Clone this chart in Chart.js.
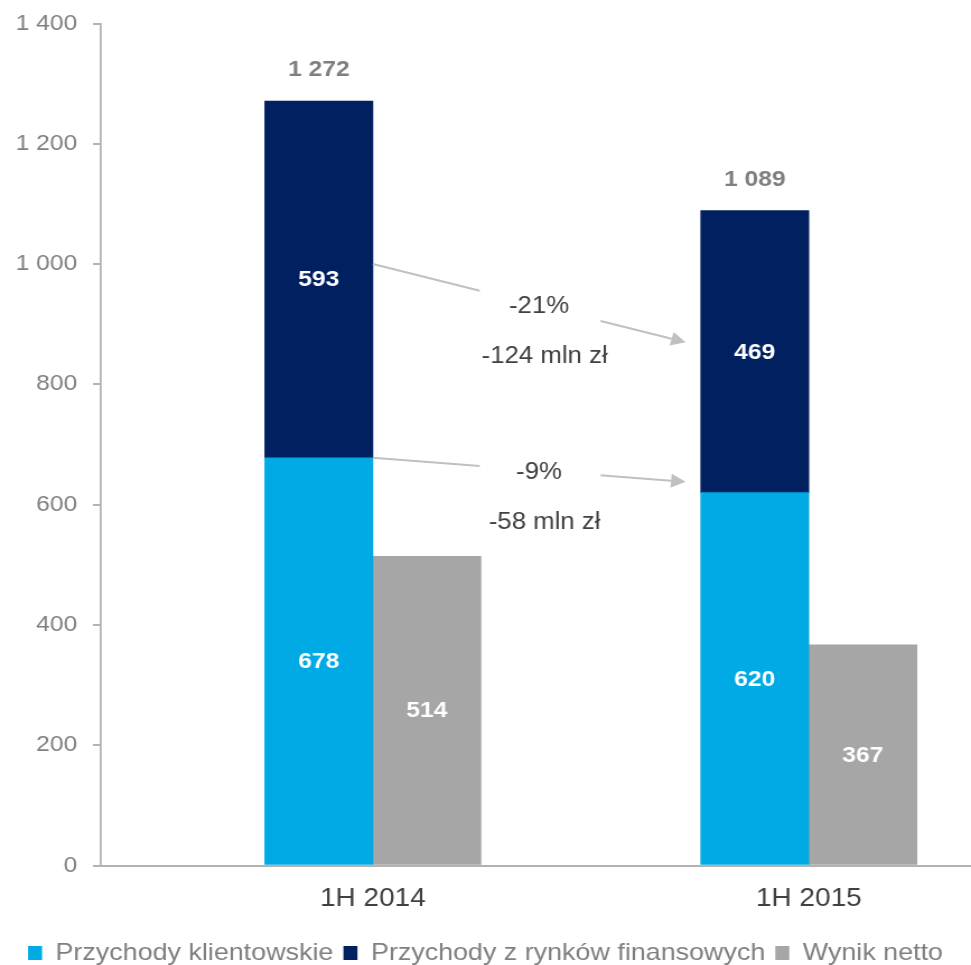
<!DOCTYPE html>
<html>
<head>
<meta charset="utf-8">
<script src="https://cdn.jsdelivr.net/npm/chart.js@4.4.0/dist/chart.umd.min.js"></script>
<style>
  body { margin: 0; background: #fff; }
  canvas { display: block; }
</style>
</head>
<body>
<!-- the original is a slightly widened picture, so the canvas is drawn narrower and stretched -->
<canvas id="chart" width="867" height="965" style="width:971px;height:965px"></canvas>
<script>
// values (mln zł)
const categories = ['1H 2014', '1H 2015'];
const clientRevenue = [678, 620];
const marketRevenue = [593, 469];
const netResult = [514, 367];
const totals = [1272, 1089];
const seriesNames = ['Przychody klientowskie', 'Przychody z rynków finansowych', 'Wynik netto'];

// change arrows between the two periods
const changePct = ['-21%', '-9%'];
const changeAbs = ['-124 mln zł', '-58 mln zł'];
const arrowFrom = [1000, 678];
const arrowTo = [870, 638];

const FONT = "'Liberation Sans', Arial, sans-serif";
const AXIS = '#b3b3b3';

function fmt(v) {
  return String(Math.round(v)).replace(/\B(?=(\d{3})+(?!\d))/g, ' ');
}

function points(arr) {
  return arr.map((v, i) => ({ x: i + 1, y: v }));
}

const annotate = {
  id: 'annotate',
  afterDatasetsDraw(chart) {
    const ctx = chart.ctx;
    const ys = chart.scales.y;
    ctx.save();
    ctx.textAlign = 'center';
    ctx.textBaseline = 'middle';

    // values inside the bars
    ctx.fillStyle = '#ffffff';
    ctx.font = 'bold 22px ' + FONT;
    chart.data.datasets.forEach((ds, di) => {
      chart.getDatasetMeta(di).data.forEach((el, i) => {
        ctx.fillText(fmt(ds.data[i].y), el.x, (el.y + el.base) / 2 + 1);
      });
    });

    // totals above the stacked bars
    const top = chart.getDatasetMeta(1).data;
    ctx.fillStyle = '#7f7f7f';
    totals.forEach((t, i) => {
      ctx.fillText(fmt(t), top[i].x, top[i].y - 31);
    });

    // arrows
    const bars = chart.getDatasetMeta(0).data;
    const x0 = bars[0].x + bars[0].width / 2;
    const gapEnd = bars[1].x - bars[1].width / 2;
    const x1 = gapEnd - 13.5;
    const tx = (x0 + gapEnd) / 2;
    for (let i = 0; i < changePct.length; i++) {
      const y0 = ys.getPixelForValue(arrowFrom[i]);
      const y1 = ys.getPixelForValue(arrowTo[i]);
      const ang = Math.atan2(y1 - y0, x1 - x0);
      const len = 13, half = 7;
      const bx = x1 - len * Math.cos(ang), by = y1 - len * Math.sin(ang);
      ctx.strokeStyle = '#c0c0c0';
      ctx.fillStyle = '#c0c0c0';
      ctx.lineWidth = 2;
      ctx.beginPath();
      ctx.moveTo(x0, y0);
      ctx.lineTo(bx, by);
      ctx.stroke();
      ctx.beginPath();
      ctx.moveTo(x1, y1);
      ctx.lineTo(bx + half * Math.sin(ang), by - half * Math.cos(ang));
      ctx.lineTo(bx - half * Math.sin(ang), by + half * Math.cos(ang));
      ctx.closePath();
      ctx.fill();

      const ty = y0 + (y1 - y0) * (tx - x0) / (x1 - x0);
      ctx.fillStyle = '#ffffff';
      ctx.fillRect(tx - 51, ty - 17, 108, 34);
      ctx.fillStyle = '#404040';
      ctx.font = '23px ' + FONT;
      ctx.fillText(changePct[i], tx + 2, ty + 2);
      ctx.fillText(changeAbs[i], tx + 7, ty + 52);
    }
    ctx.restore();
  }
};

new Chart(document.getElementById('chart'), {
  type: 'bar',
  data: {
    datasets: [
      { label: seriesNames[0], data: points(clientRevenue), backgroundColor: '#00aae4', stack: 'rev' },
      { label: seriesNames[1], data: points(marketRevenue), backgroundColor: '#002060', stack: 'rev' },
      { label: seriesNames[2], data: points(netResult), backgroundColor: '#a6a6a6', stack: 'net' }
    ]
  },
  options: {
    responsive: false,
    devicePixelRatio: 1,
    animation: false,
    layout: { padding: { top: 23.5, right: 0, left: 0, bottom: -10 } },
    datasets: { bar: { barThickness: 96.5 } },
    scales: {
      x: {
        type: 'linear',
        offset: false,
        min: 0.376,
        max: 2.372,
        grid: { display: false },
        border: { display: true, color: AXIS, width: 2 },
        afterBuildTicks: (axis) => { axis.ticks = categories.map((c, i) => ({ value: i + 1 })); },
        afterFit: (axis) => { axis.height = 66.5; axis.paddingLeft = 0; axis.paddingRight = 0; },
        ticks: {
          autoSkip: false,
          maxRotation: 0,
          padding: 11,
          color: '#404040',
          font: { family: FONT, size: 25 },
          callback: (v) => categories[v - 1]
        }
      },
      y: {
        min: 0,
        max: 1400,
        stacked: true,
        afterFit: (axis) => { axis.width = 90; axis.paddingTop = 0; axis.paddingBottom = 0; },
        grid: { display: true, drawOnChartArea: false, drawTicks: true, tickLength: 7, color: AXIS, lineWidth: 2 },
        border: { display: true, color: AXIS, width: 1.8 },
        ticks: {
          stepSize: 200,
          padding: 14,
          color: '#808080',
          font: { family: FONT, size: 22 },
          callback: (v) => fmt(v)
        }
      }
    },
    plugins: {
      tooltip: { enabled: false },
      legend: {
        position: 'bottom',
        labels: {
          boxWidth: 12.5,
          boxHeight: 14,
          padding: 9,
          color: '#7f7f7f',
          font: { family: FONT, size: 24 }
        }
      }
    }
  },
  plugins: [annotate]
});
</script>
</body>
</html>
